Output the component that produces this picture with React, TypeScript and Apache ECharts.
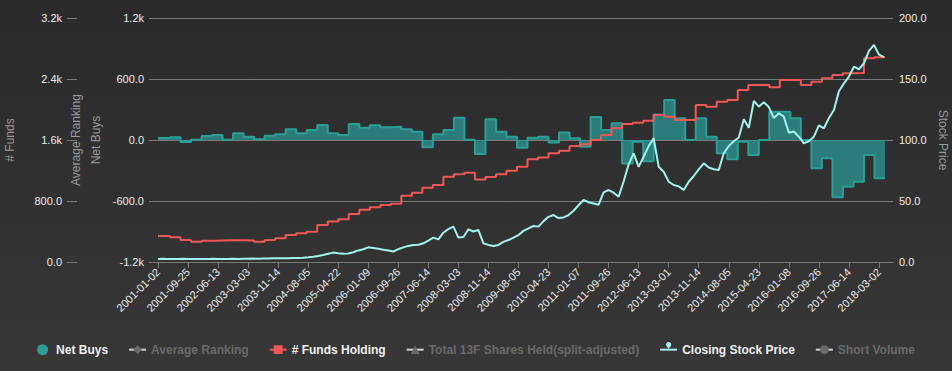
import React, { useEffect, useRef } from 'react';
import * as echarts from 'echarts';

// ---- axis / category setup ----
const DAY_COUNT = 4405; // trading-day categories on the x axis
const LABEL_EVERY = 180; // a date label every 180 trading days
const TICK_LABELS = [
  '2001-01-02', '2001-09-25', '2002-06-13', '2003-03-03', '2003-11-14',
  '2004-08-05', '2005-04-22', '2006-01-09', '2006-09-26', '2007-06-14',
  '2008-03-03', '2008-11-14', '2009-08-05', '2010-04-23', '2011-01-07',
  '2011-09-26', '2012-06-13', '2013-03-01', '2013-11-14', '2014-08-05',
  '2015-04-23', '2016-01-08', '2016-09-26', '2017-06-14', '2018-03-02',
];

// quarterly data (13F quarters), starting at trading day QUARTER_START, every QUARTER_LEN days
const QUARTER_START = 9;
const QUARTER_LEN = 63;
const NET_BUYS = [
  20, 27, -20, 3, 40, 50, 2, 66, 33, 7,
  43, 56, 105, 66, 98, 148, 66, 50, 157, 121,
  144, 125, 131, 105, 82, -72, 56, 98, 219, 2,
  -138, 203, 82, 33, -75, 23, 33, -25, 75, 16,
  -66, 226, 98, 164, -230, -16, -210, 250, 393, 213,
  0, 213, 33, -131, -190, -16, -148, 0, 279, 279,
  213, 0, -279, -180, -564, -459, -410, -148, -377,
];
const FUNDS_HOLDING = [
  340, 324, 288, 266, 279, 282, 285, 285, 282, 266,
  288, 310, 354, 376, 398, 485, 532, 560, 630, 685,
  717, 747, 765, 870, 909, 975, 1009, 1118, 1150, 1171,
  1083, 1115, 1150, 1197, 1250, 1346, 1372, 1425, 1460, 1520,
  1543, 1600, 1665, 1753, 1810, 1827, 1853, 1928, 1906, 1862,
  1862, 2059, 2037, 2103, 2125, 2256, 2321, 2321, 2291, 2387,
  2387, 2321, 2365, 2409, 2452, 2474, 2480, 2671, 2684,
];

// closing stock price, one reading every PRICE_EVERY trading days
const PRICE_EVERY = 30;
const CLOSING_PRICE = [
  2.5, 2.6, 2.5, 2.4, 2.5, 2.6, 2.4, 2.5, 2.5, 2.4,
  2.5, 2.6, 2.5, 2.4, 2.5, 2.6, 2.5, 2.6, 2.7, 2.8,
  2.7, 2.8, 2.9, 3.0, 3.0, 3.1, 3.0, 3.2, 3.3, 3.4,
  3.8, 4.3, 5.0, 5.8, 6.8, 7.7, 7.2, 6.8, 7.0, 8.0,
  9.5, 10.5, 12.0, 11.5, 10.8, 10.0, 9.5, 8.6, 10.5, 12.0,
  13.2, 13.9, 14.2, 15.3, 17.5, 20.0, 18.5, 24.0, 27.0, 29.0,
  20.0, 20.5, 26.8, 25.0, 26.2, 15.3, 14.0, 13.1, 14.0, 16.5,
  18.0, 20.0, 22.1, 25.5, 27.6, 29.5, 29.0, 33.5, 37.0, 38.5,
  36.0, 36.5, 38.5, 42.0, 46.5, 50.8, 49.0, 48.0, 47.0, 57.0,
  59.0, 56.8, 53.5, 66.0, 80.0, 89.1, 78.0, 86.3, 95.0, 101.4,
  78.1, 74.0, 65.8, 63.1, 62.0, 59.0, 65.8, 70.5, 76.0, 80.9,
  77.5, 76.0, 75.4, 89.1, 95.0, 99.0, 102.0, 117.0, 110.0, 132.0,
  127.3, 131.0, 127.0, 118.0, 121.9, 119.1, 106.0, 107.0, 102.7, 97.3,
  99.0, 102.7, 112.0, 109.6, 118.0, 124.6, 140.0, 146.4, 152.0, 160.1,
  158.0, 162.9, 173.0, 177.9, 170.0, 168.0,
];

const SERIES_NAMES = [
  'Net Buys',
  'Average Ranking',
  '# Funds Holding',
  'Total 13F Shares Held(split-adjusted)',
  'Closing Stock Price',
  'Short Volume',
];

const FONT = 'Liberation Sans, Arial, Helvetica, sans-serif';

function categories(): string[] {
  const out: string[] = [];
  for (let i = 0; i < DAY_COUNT; i++) {
    out.push(i % LABEL_EVERY === 0 && TICK_LABELS[i / LABEL_EVERY] ? TICK_LABELS[i / LABEL_EVERY] : 'd' + i);
  }
  return out;
}

function quarterly(values: number[]): [number, number][] {
  const pts: [number, number][] = [[0, values[0]]];
  values.forEach((v, k) => pts.push([QUARTER_START + QUARTER_LEN * k, v]));
  pts.push([QUARTER_START + QUARTER_LEN * values.length, values[values.length - 1]]);
  return pts;
}

function priceData(): [number, number][] {
  return CLOSING_PRICE.map((v, j) => [j * PRICE_EVERY, v]);
}

const fmt = (v: number) => (Math.abs(v) >= 1000 ? (v / 1000).toFixed(1) + 'k' : v.toFixed(1));

export default function App() {
  const ref = useRef<HTMLDivElement>(null);
  useEffect(() => {
    const chart = echarts.init(ref.current!, undefined, { renderer: 'svg' });
    const labelStyle = { color: '#ececec', fontSize: 11, fontFamily: FONT };
    const nameStyle = { color: '#9a9a9a', fontSize: 12, fontFamily: FONT };
    chart.setOption({
      animation: false,
      backgroundColor: new echarts.graphic.LinearGradient(0, 0, 0, 1, [
        { offset: 0, color: '#2a2a2a' },
        { offset: 1, color: '#373737' },
      ]),
      textStyle: { fontFamily: FONT },
      grid: { left: 158, right: 59, top: 18, bottom: 109, containLabel: false, outerBoundsMode: 'none' },
      legend: {
        data: SERIES_NAMES.map((n) => (n === 'Net Buys' ? { name: n, icon: 'circle' } : { name: n })),
        selected: {
          'Average Ranking': false,
          'Total 13F Shares Held(split-adjusted)': false,
          'Short Volume': false,
        },
        left: 'center',
        top: 337,
        itemWidth: 17,
        itemHeight: 11,
        itemGap: 20,
        inactiveColor: '#6a6a6a',
        textStyle: { color: '#f0f0f0', fontSize: 12, fontWeight: 'bold', fontFamily: FONT },
      },
      xAxis: {
        type: 'category',
        data: categories(),
        boundaryGap: false,
        axisLine: { lineStyle: { color: '#7a7a7a' } },
        axisTick: { interval: LABEL_EVERY - 1, length: 6, lineStyle: { color: '#7a7a7a' } },
        axisLabel: { ...labelStyle, interval: LABEL_EVERY - 1, rotate: 45, margin: 8 },
        splitLine: { show: false },
      },
      yAxis: [
        {
          type: 'value',
          position: 'left',
          offset: 81,
          min: 0,
          max: 3200,
          interval: 800,
          name: '# Funds',
          nameLocation: 'middle',
          nameGap: 61,
          nameTextStyle: nameStyle,
          axisLine: { show: false },
          axisTick: { show: true, length: 10, lineStyle: { color: '#7a7a7a' } },
          axisLabel: { ...labelStyle, margin: 15, formatter: fmt },
          splitLine: { show: false },
        },
        {
          type: 'value',
          position: 'left',
          offset: 0,
          min: 0,
          max: 100,
          name: 'Average Ranking',
          nameLocation: 'middle',
          nameGap: 76,
          nameTextStyle: nameStyle,
          axisLine: { show: false },
          axisTick: { show: false },
          axisLabel: { show: false },
          splitLine: { show: false },
        },
        {
          type: 'value',
          position: 'left',
          offset: 0,
          min: -1200,
          max: 1200,
          interval: 600,
          name: 'Net Buys',
          nameLocation: 'middle',
          nameGap: 48,
          nameTextStyle: nameStyle,
          axisLine: { show: false },
          axisTick: { show: true, length: 9, lineStyle: { color: '#7a7a7a' } },
          axisLabel: { ...labelStyle, margin: 14, formatter: fmt },
          splitLine: { show: true, lineStyle: { color: '#7a7a7a', width: 1 } },
        },
        {
          type: 'value',
          position: 'right',
          offset: 0,
          min: 0,
          max: 200,
          interval: 50,
          name: 'Stock Price',
          nameLocation: 'middle',
          nameRotate: -90,
          nameGap: 40,
          nameTextStyle: nameStyle,
          axisLine: { show: false },
          axisTick: { show: false },
          axisLabel: { ...labelStyle, margin: 6, formatter: fmt },
          splitLine: { show: false },
        },
      ],
      series: [
        {
          name: 'Net Buys',
          type: 'line',
          yAxisIndex: 2,
          step: 'end',
          data: quarterly(NET_BUYS),
          showSymbol: false,
          symbol: 'circle',
          color: '#2b9e98',
          lineStyle: { width: 2, color: '#2b9e98' },
          areaStyle: { color: '#2b9e98', opacity: 0.7 },
          z: 1,
        },
        {
          name: 'Average Ranking',
          type: 'line',
          yAxisIndex: 1,
          data: [],
          symbol: 'diamond',
          showSymbol: false,
          color: '#bbbbbb',
        },
        {
          name: '# Funds Holding',
          type: 'line',
          yAxisIndex: 0,
          step: 'end',
          data: quarterly(FUNDS_HOLDING),
          showSymbol: false,
          symbol: 'rect',
          color: '#f25656',
          lineStyle: { width: 2, color: '#f25656' },
          z: 3,
        },
        {
          name: 'Total 13F Shares Held(split-adjusted)',
          type: 'line',
          yAxisIndex: 0,
          data: [],
          symbol: 'triangle',
          showSymbol: false,
          color: '#bbbbbb',
        },
        {
          name: 'Closing Stock Price',
          type: 'line',
          yAxisIndex: 3,
          data: priceData(),
          showSymbol: false,
          symbol: 'pin',
          color: '#a2f2ee',
          lineStyle: { width: 2, color: '#a2f2ee' },
          z: 4,
        },
        {
          name: 'Short Volume',
          type: 'line',
          yAxisIndex: 3,
          data: [],
          symbol: 'circle',
          showSymbol: false,
          color: '#bbbbbb',
        },
      ],
    });
    return () => chart.dispose();
  }, []);
  return <div ref={ref} style={{ position: 'fixed', left: 0, top: 0, width: 952, height: 371 }} />;
}
